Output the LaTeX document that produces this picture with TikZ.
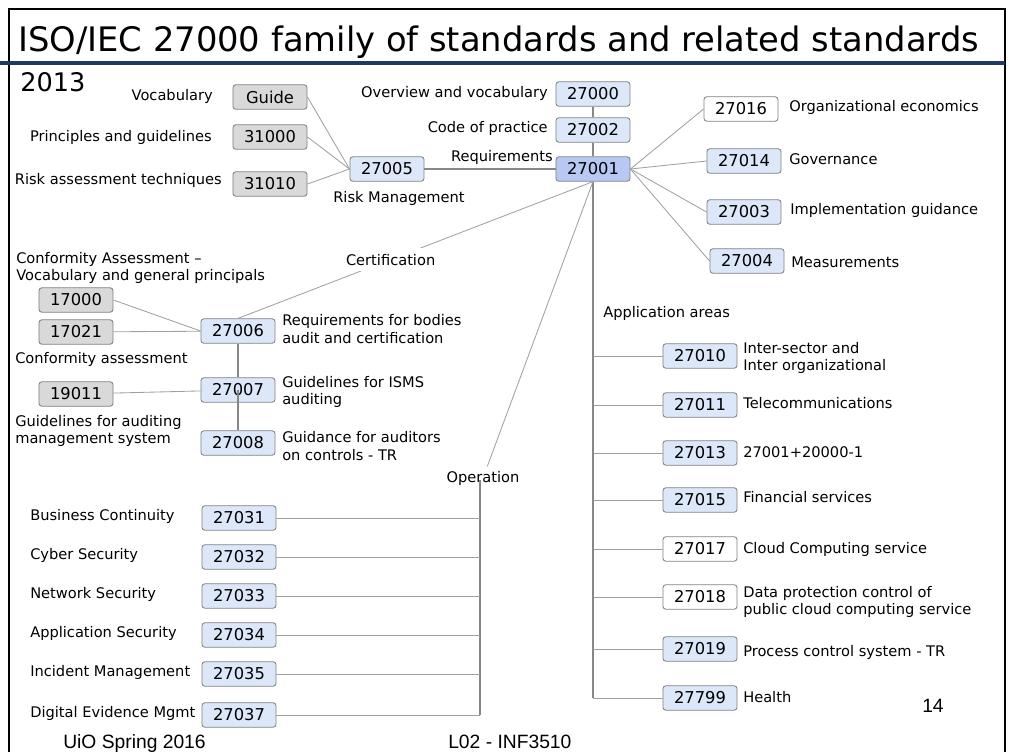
\documentclass[tikz,border=0pt]{standalone}
\usepackage{fontspec}
\setmainfont{DejaVu Sans}
\newfontfamily\footfont{Liberation Sans}
\definecolor{boxblue}{RGB}{221,231,250}
\definecolor{boxdark}{RGB}{183,201,242}
\definecolor{boxgrey}{RGB}{217,217,217}
\definecolor{boxline}{RGB}{128,128,128}
\definecolor{linegrey}{RGB}{160,160,160}
\definecolor{trunkgrey}{RGB}{135,135,135}
\definecolor{rulenavy}{RGB}{31,56,100}

\begin{document}
\begin{tikzpicture}[x=0.025cm, y=-0.025cm,
    stdbox/.style={draw=boxline, line width=0.6pt, rounded corners=2pt, fill=boxblue,
        minimum width=1.85cm, minimum height=0.61cm, inner sep=0pt, font=\fontsize{11.6}{13}\selectfont},
    greybox/.style={stdbox, fill=boxgrey},
    whitebox/.style={stdbox, fill=white},
    keybox/.style={stdbox, fill=boxdark},
    lbl/.style={inner sep=0pt, align=left, font=\fontsize{10.4}{12.4}\selectfont},
    foot/.style={inner sep=0pt, anchor=base west, font=\footfont\fontsize{13.7}{15}\selectfont},
    link/.style={draw=linegrey, line width=0.6pt},
    trunk/.style={draw=trunkgrey, line width=1.3pt}] % 27000 family
\useasboundingbox (0,0) rectangle (1015,752);
\draw[line width=0.9pt] (9,752) -- (9,9) -- (1005,9) -- (1005,752);
\draw[rulenavy, line width=2.2pt] (0,63) -- (1005,63);
\node[lbl, anchor=base west, font=\fontsize{24}{27}\selectfont] (title) at (18,51) {ISO/IEC 27000 family of standards and related standards};
\node[lbl, anchor=base west, font=\fontsize{18.2}{20}\selectfont] (year) at (20,91) {2013};

% risk management
\node[greybox] (nguide) at (270,97) {Guide};
\node[greybox] (n31000) at (270,137) {31000};
\node[greybox] (n31010) at (270,184) {31010};
\node[stdbox] (n27005) at (387,169) {27005};
\node[lbl, anchor=east] (lvocab) at (213,96) {Vocabulary};
\node[lbl, anchor=east] (lprinc) at (212,137) {Principles and guidelines};
\node[lbl, anchor=east] (lriskas) at (222,180) {Risk assessment techniques};
\node[lbl, anchor=west] (lriskmg) at (333,198) {Risk Management};

% core
\node[stdbox] (n27000) at (593,94) {27000};
\node[stdbox] (n27002) at (593,130) {27002};
\node[keybox] (n27001) at (593,169) {27001};
\node[lbl, anchor=east] (loverview) at (548,93) {Overview and vocabulary};
\node[lbl, anchor=east] (lcode) at (548,128) {Code of practice};
\node[lbl, anchor=east] (lreq) at (553,157) {Requirements};

\node[whitebox] (n27016) at (741,109) {27016};
\node[stdbox] (n27014) at (744,161) {27014};
\node[stdbox] (n27003) at (744,212) {27003};
\node[stdbox] (n27004) at (747,261) {27004};
\node[lbl, anchor=west] (lecon) at (789,107) {Organizational economics};
\node[lbl, anchor=west] (lgov) at (789,159) {Governance};
\node[lbl, anchor=west] (limpl) at (790,210) {Implementation guidance};
\node[lbl, anchor=west] (lmeas) at (791,262) {Measurements};

% certification
\node[lbl, anchor=west] (lconfvoc) at (16,268) {Conformity Assessment –\\Vocabulary and general principals};
\node[greybox] (n17000) at (76,300) {17000};
\node[greybox] (n17021) at (76,332) {17021};
\node[stdbox] (n27006) at (238,331) {27006};
\node[lbl, anchor=west] (lbodies) at (282,329) {Requirements for bodies\\audit and certification};
\node[lbl, anchor=west] (lconfass) at (15,359) {Conformity assessment};
\node[greybox] (n19011) at (76,394) {19011};
\node[stdbox] (n27007) at (238,390) {27007};
\node[lbl, anchor=west] (lisms) at (282,392) {Guidelines for ISMS\\auditing};
\node[lbl, anchor=west] (laudit) at (15,431) {Guidelines for auditing\\management system};
\node[stdbox] (n27008) at (238,443) {27008};
\node[lbl, anchor=west] (lauditors) at (282,446) {Guidance for auditors\\on controls - TR};

% application areas
\node[lbl, anchor=west] (lapp) at (603,313) {Application areas};
\node[stdbox] (n27010) at (700,356) {27010};
\node[stdbox] (n27011) at (700,405) {27011};
\node[stdbox] (n27013) at (700,453) {27013};
\node[stdbox] (n27015) at (700,500) {27015};
\node[whitebox] (n27017) at (700,549) {27017};
\node[whitebox] (n27018) at (700,597) {27018};
\node[stdbox] (n27019) at (700,649) {27019};
\node[stdbox] (n27799) at (700,698) {27799};
\node[lbl, anchor=west] (linter) at (743,358) {Inter-sector and\\Inter organizational};
\node[lbl, anchor=west] (ltele) at (743,403) {Telecommunications};
\node[lbl, anchor=west] (lsvc) at (743,452) {27001+20000-1};
\node[lbl, anchor=west] (lfin) at (743,497) {Financial services};
\node[lbl, anchor=west] (lcloud) at (743,549) {Cloud Computing service};
\node[lbl, anchor=west] (lprot) at (743,602) {Data protection control of\\public cloud computing service};
\node[lbl, anchor=west] (lproc) at (743,652) {Process control system - TR};
\node[lbl, anchor=west] (lhealth) at (743,697) {Health};

% operation
\node[lbl, inner sep=3pt] (oper) at (483,478) {Operation};
\node[stdbox] (n27031) at (239,518) {27031};
\node[stdbox] (n27032) at (239,557) {27032};
\node[stdbox] (n27033) at (239,596) {27033};
\node[stdbox] (n27034) at (239,635) {27034};
\node[stdbox] (n27035) at (239,674) {27035};
\node[stdbox] (n27037) at (239,715) {27037};
\node[lbl, anchor=west] (lbus) at (30,516) {Business Continuity};
\node[lbl, anchor=west] (lcyber) at (30,555) {Cyber Security};
\node[lbl, anchor=west] (lnet) at (30,594) {Network Security};
\node[lbl, anchor=west] (lappsec) at (30,633) {Application Security};
\node[lbl, anchor=west] (linc) at (30,672) {Incident Management};
\node[lbl, anchor=west] (ldig) at (30,713) {Digital Evidence Mgmt};
\coordinate (optop) at (480,480);

\node[foot] (lspring) at (63,748) {UiO Spring 2016};
\node[foot] (lcourse) at (448,748) {L02 - INF3510};
\node[foot] (lpage) at (922,712) {14};

\draw[link] (nguide.east) -- (n27005.west);
\draw[link] (n31000.east) -- (n27005.west);
\draw[link] (n31010.east) -- (n27005.west);
\draw[trunk] (n27005) -- (n27001);
\draw[trunk] (n27000) -- (n27002) -- (n27001);
\draw[link] (n27001.east) -- (n27016.west);
\draw[link] (n27001.east) -- (n27014.west);
\draw[link] (n27001.east) -- (n27003.west);
\draw[link] (n27001.east) -- (n27004.west);
\draw[link] (n27006.north) -- node[lbl, fill=white, inner sep=4pt, pos=0.43] (cert) {Certification} (n27001.south);
\draw[link] (n17000.east) -- (n27006.west);
\draw[link] (n17021) -- (n27006);
\draw[link] (n19011) -- (n27007);
\draw[trunk] (n27006) -- (n27007);
\draw[trunk] (n27007.center) -- (n27008.north);
\draw[trunk] (n27001.south) -- (n27001.south |- n27799);
\draw[link] (n27001.south |- n27010) -- (n27010.west);
\draw[link] (n27001.south |- n27011) -- (n27011.west);
\draw[link] (n27001.south |- n27013) -- (n27013.west);
\draw[link] (n27001.south |- n27015) -- (n27015.west);
\draw[link] (n27001.south |- n27017) -- (n27017.west);
\draw[link] (n27001.south |- n27018) -- (n27018.west);
\draw[link] (n27001.south |- n27019) -- (n27019.west);
\draw[link] (n27001.south |- n27799) -- (n27799.west);
\draw[link] (n27001.south) -- (oper);
\draw[trunk] (optop) -- (optop |- n27037);
\draw[link] (n27031.east) -- (optop |- n27031);
\draw[link] (n27032.east) -- (optop |- n27032);
\draw[link] (n27033.east) -- (optop |- n27033);
\draw[link] (n27034.east) -- (optop |- n27034);
\draw[link] (n27035.east) -- (optop |- n27035);
\draw[link] (n27037.east) -- (optop |- n27037);
\end{tikzpicture}
\end{document}
